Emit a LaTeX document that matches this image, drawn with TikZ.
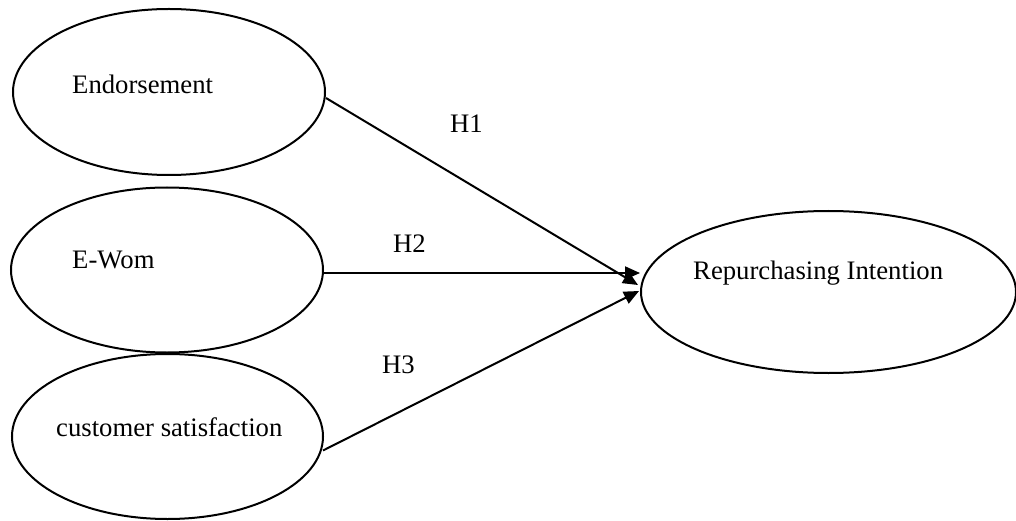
\documentclass[tikz,border=0pt]{standalone}
\usepackage{fontspec}
\setmainfont{Liberation Serif}
\usetikzlibrary{arrows.meta,calc,shapes.geometric}
\tikzset{
  construct/.style={ellipse,draw=black,line width=2pt,inner sep=0pt},
  txt/.style={inner sep=0pt,anchor=base west,font=\fontsize{26.7}{32}\selectfont},
  path arrow/.style={line width=2pt,-{Triangle[length=15pt,width=13pt]}}
}
\begin{document}
\begin{tikzpicture}[x=1pt,y=-1pt]
\useasboundingbox[fill=white] (0,0) rectangle (1016,521);
\node[construct,minimum width=312pt,minimum height=166pt] (endo) at (169,92) {};
\node[construct,minimum width=312pt,minimum height=165pt] (ewom) at (167,270) {};
\node[construct,minimum width=311pt,minimum height=165pt] (cust) at (167.5,436.5) {};
\node[construct,minimum width=375pt,minimum height=162pt] (rep) at (828.5,292) {};
\node[txt] (tendo) at (72,94) {Endorsement};
\node[txt] (tewom) at (72,268) {E-Wom};
\node[txt] (tcust) at (56,436) {customer satisfaction};
\node[txt] (trep) at (693,279) {Repurchasing Intention};
\node[txt] (h1) at (450,133) {H1};
\node[txt] (h2) at (393,252) {H2};
\node[txt] (h3) at (382,373) {H3};
\draw[path arrow] ($(endo.east)+(0,6)$) -- ($(rep.west)+(-2,-7)$);
\draw[path arrow] ($(ewom.east)+(0,3)$) -- ($(rep.west)+(0,-19)$);
\draw[path arrow] ($(cust.east)+(-1,14)$) -- ($(rep.west)+(-1,-1)$);
\end{tikzpicture}
\end{document}
